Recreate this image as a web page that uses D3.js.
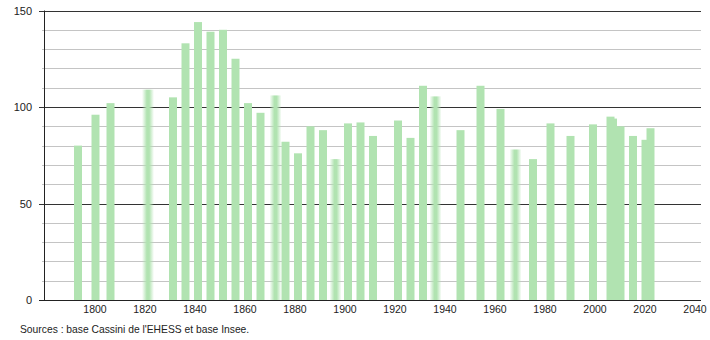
<!DOCTYPE html>
<html>
<head>
<meta charset="utf-8">
<script src="https://cdn.jsdelivr.net/npm/d3@7"></script>
<style>
  body { margin: 0; background: #fff; }
  text { font-family: "Liberation Sans", Arial, sans-serif; fill: #222; }
</style>
</head>
<body>
<div id="chart"></div>
<script>
const years = [1793,1800,1806,1821,1831,1836,1841,1846,1851,1856,1861,1866,1872,1876,1881,1886,1891,1896,1901,1906,1911,1921,1926,1931,1936,1946,1954,1962,1968,1975,1982,1990,1999,2006,2007,2010,2015,2020,2022];
const population = [80,96,102,109,105,133,144,139,140,125,102,97,106,82,76,90,88,73,91.5,92,85,93,84,111,105.5,88,111,99,78,73,91.5,85,91,95,94,90,85,83,89];
// years drawn with soft edges in the original
const fuzzyYears = [1821,1872,1896,1936,1968];
const xTicks = [1800,1820,1840,1860,1880,1900,1920,1940,1960,1980,2000,2020,2040];
const yMajor = [0,50,100,150];
const yMinor = [10,20,30,40,60,70,80,90,110,120,130,140];
const source = "Sources : base Cassini de l'EHESS et base Insee.";

const width = 710, height = 340;
const margin = {top: 10.5, right: 9, bottom: 40, left: 44};

const svg = d3.select("#chart").append("svg")
    .attr("width", width)
    .attr("height", height);

const x = d3.scaleLinear()
    .domain([1779.6, 2042.4])
    .range([margin.left, width - margin.right]);

const y = d3.scaleLinear()
    .domain([0, 150])
    .range([height - margin.bottom, margin.top]);

const barColor = "#b1e3b1";

var defs = svg.append("defs");
var grad = defs.append("linearGradient")
    .attr("id", "fuzzy")
    .attr("x1", "0%").attr("y1", "0%")
    .attr("x2", "100%").attr("y2", "0%");
grad.append("stop").attr("offset", "0%").attr("stop-color", barColor).attr("stop-opacity", 0);
grad.append("stop").attr("offset", "40%").attr("stop-color", barColor).attr("stop-opacity", 1);
grad.append("stop").attr("offset", "60%").attr("stop-color", barColor).attr("stop-opacity", 1);
grad.append("stop").attr("offset", "100%").attr("stop-color", barColor).attr("stop-opacity", 0);

// minor grid
svg.append("g")
    .selectAll("line")
    .data(yMinor)
    .join("line")
    .attr("x1", margin.left - 2)
    .attr("x2", width - margin.right)
    .attr("y1", d => Math.round(y(d)) + 0.5)
    .attr("y2", d => Math.round(y(d)) + 0.5)
    .attr("stroke", "#c4c4c4")
    .attr("stroke-width", 1);

// major grid
svg.append("g")
    .selectAll("line")
    .data(yMajor)
    .join("line")
    .attr("x1", margin.left - 5)
    .attr("x2", width - margin.right)
    .attr("y1", d => Math.round(y(d)) + 0.5)
    .attr("y2", d => Math.round(y(d)) + 0.5)
    .attr("stroke", "#333")
    .attr("stroke-width", 1);

const data = years.map((yr, i) => ({year: yr, value: population[i], fuzzy: fuzzyYears.includes(yr)}));

// bars
svg.append("g")
    .selectAll("rect")
    .data(data)
    .join("rect")
    .attr("x", d => x(d.year) + 0.5 - (d.fuzzy ? 6 : 4))
    .attr("width", d => d.fuzzy ? 12 : 8)
    .attr("y", d => y(d.value))
    .attr("height", d => y(0) - y(d.value))
    .attr("fill", d => d.fuzzy ? "url(#fuzzy)" : barColor);

// baseline again over bars
svg.append("line")
    .attr("x1", margin.left - 5)
    .attr("x2", width - margin.right)
    .attr("y1", Math.round(y(0)) + 0.5)
    .attr("y2", Math.round(y(0)) + 0.5)
    .attr("stroke", "#222");

// y axis line
svg.append("line")
    .attr("x1", margin.left + 0.5)
    .attr("x2", margin.left + 0.5)
    .attr("y1", y(150))
    .attr("y2", y(0) + 0.5)
    .attr("stroke", "#222");

// y labels
svg.append("g")
    .selectAll("text")
    .data(yMajor)
    .join("text")
    .attr("x", 32)
    .attr("y", d => y(d) + 4)
    .attr("text-anchor", "end")
    .style("font-size", "11px")
    .text(d => d);

// x labels
svg.append("g")
    .selectAll("text")
    .data(xTicks)
    .join("text")
    .attr("x", d => x(d))
    .attr("y", 313)
    .attr("text-anchor", "middle")
    .style("font-size", "10.5px")
    .text(d => d);

svg.append("text")
    .attr("x", 20)
    .attr("y", 333)
    .style("font-size", "10.3px")
    .text(source);
</script>
</body>
</html>
